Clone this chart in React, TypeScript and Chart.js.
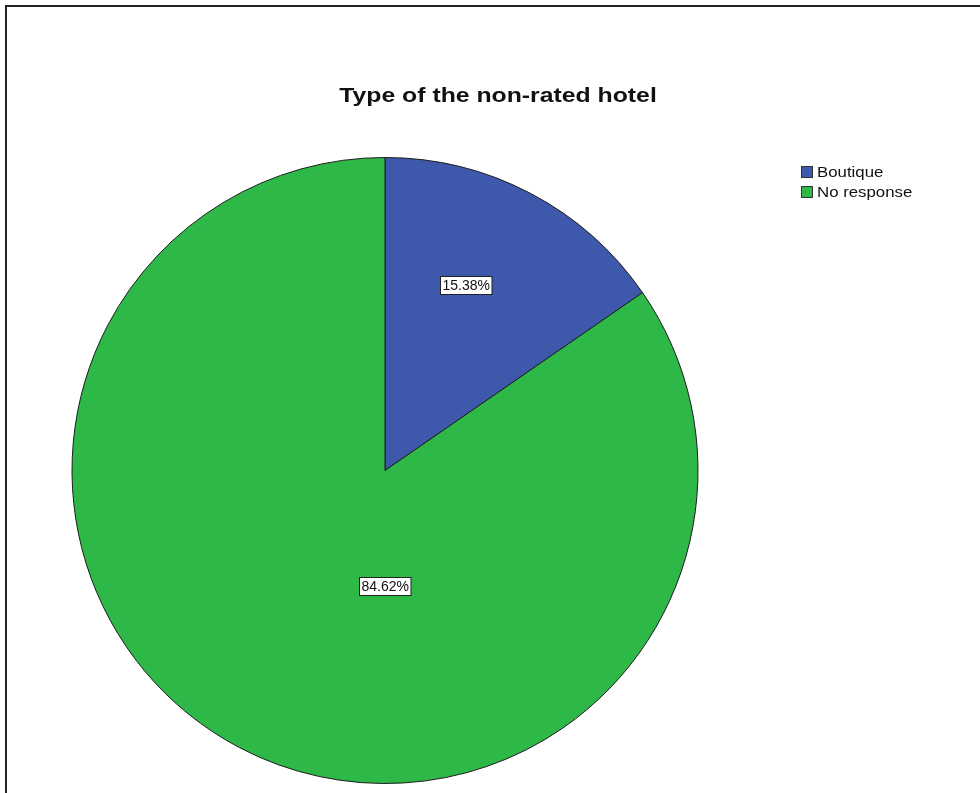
import React, { useEffect, useRef } from "react";
import { Chart, registerables } from "chart.js";

Chart.register(...registerables);

const chartTitle = "Type of the non-rated hotel";
const categories = ["Boutique", "No response"];
const percentages = [15.38, 84.62];
const sliceColors = ["#3e58ac", "#2eb848"];

// label placement relative to pie centre, in units of the radius
const labelOffsets = [
  [0.257, -0.593],
  [0.0, 0.369],
];

const FONT = "'Liberation Sans', Arial, sans-serif";

const overlayPlugin = {
  id: "overlay",
  afterDraw(chart: any) {
    const ctx = chart.ctx as CanvasRenderingContext2D;
    ctx.save();

    // frame
    ctx.strokeStyle = "#222";
    ctx.lineWidth = 2;
    ctx.strokeRect(6, 6, 1000, 1000);

    // title
    ctx.save();
    ctx.font = `bold 21px ${FONT}`;
    ctx.fillStyle = "#111";
    ctx.textBaseline = "alphabetic";
    ctx.textAlign = "center";
    ctx.translate(498, 102);
    ctx.scale(1.18, 1);
    ctx.fillText(chartTitle, 0, 0);
    ctx.restore();

    // legend
    categories.forEach((cat, i) => {
      const y = 166 + i * 20;
      ctx.fillStyle = sliceColors[i];
      ctx.fillRect(801, y, 12, 12);
      ctx.strokeStyle = "#333";
      ctx.lineWidth = 1;
      ctx.strokeRect(801.5, y + 0.5, 11, 11);
      ctx.save();
      ctx.font = `14px ${FONT}`;
      ctx.fillStyle = "#111";
      ctx.textAlign = "left";
      ctx.textBaseline = "middle";
      ctx.translate(817, y + 7);
      ctx.scale(1.2, 1);
      ctx.fillText(cat, 0, 0);
      ctx.restore();
    });

    // slice labels
    const meta = chart.getDatasetMeta(0);
    meta.data.forEach((arc: any, i: number) => {
      const r = arc.outerRadius;
      const cx = arc.x + labelOffsets[i][0] * r;
      const cy = arc.y + labelOffsets[i][1] * r;
      const text = percentages[i].toFixed(2) + "%";
      ctx.font = `14px ${FONT}`;
      const w = ctx.measureText(text).width + 4;
      const h = 18;
      const x0 = Math.round(cx - w / 2) + 0.5;
      const y0 = Math.round(cy - h / 2) + 0.5;
      ctx.fillStyle = "#fff";
      ctx.fillRect(x0, y0, w, h);
      ctx.strokeStyle = "#222";
      ctx.lineWidth = 1;
      ctx.strokeRect(x0, y0, w, h);
      ctx.fillStyle = "#111";
      ctx.textAlign = "center";
      ctx.textBaseline = "middle";
      ctx.fillText(text, x0 + w / 2, y0 + h / 2 + 1);
    });

    ctx.restore();
  },
};

export default function App() {
  const ref = useRef<HTMLCanvasElement | null>(null);

  useEffect(() => {
    if (!ref.current) return;
    const chart = new Chart(ref.current, {
      type: "pie",
      data: {
        labels: categories,
        datasets: [
          {
            data: percentages,
            backgroundColor: sliceColors,
            borderColor: "#1c1c1c",
            borderWidth: 1,
          },
        ],
      },
      options: {
        responsive: false,
        animation: false,
        layout: {
          padding: { left: 71.5, right: 281.5, top: 157, bottom: 9 },
        },
        plugins: {
          legend: { display: false },
          title: { display: false },
          tooltip: { enabled: false },
        },
      },
      plugins: [overlayPlugin],
    });
    return () => chart.destroy();
  }, []);

  return (
    <div style={{ position: "absolute", left: 0, top: 0, width: 980, height: 793, background: "#fff" }}>
      <canvas ref={ref} width={980} height={793} />
    </div>
  );
}
